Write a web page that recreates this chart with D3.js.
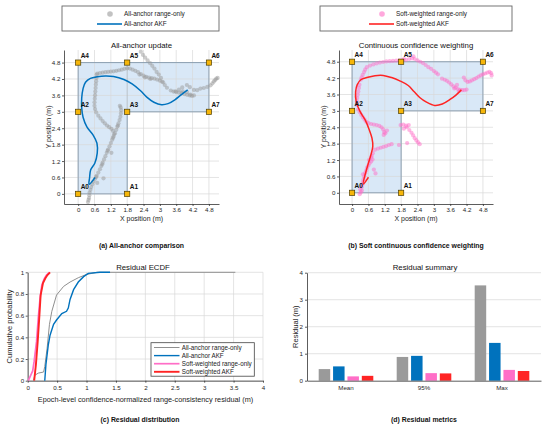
<!DOCTYPE html>
<html>
<head>
<meta charset="utf-8">
<script src="https://cdn.jsdelivr.net/npm/d3@7"></script>
<style>
    body { margin: 0; background: #fff; }
    svg { font-family: "Liberation Sans", Arial, sans-serif; }
    .grid line { stroke: #d9d9d9; stroke-width: 0.7; }
    .axis path, .axis line { stroke: #333; stroke-width: 0.8; }
    .axis text { fill: #262626; font-size: 6.2px; font-family: "Liberation Sans", Arial, sans-serif; }
</style>
</head>
<body>
<svg id="chart" width="550" height="428"></svg>
<script>

// anchors
const anchorNames = ["A0", "A1", "A2", "A3", "A4", "A5", "A6", "A7"];
const anchorX = [0, 1.8, 0, 1.8, 0, 1.8, 4.8, 4.8];
const anchorY = [0, 0, 3, 3, 4.8, 4.8, 4.8, 3];
const trajTicks = [0, 0.6, 1.2, 1.8, 2.4, 3, 3.6, 4.2, 4.8];

// (a) all-anchor range-only fixes (x, y in m)
const allAnchorRangeOnly = [
    [0.36, -0.30], [0.38, -0.22], [0.40, -0.15], [0.41, -0.05], [0.42, 0.05], [0.45, 0.15], [0.48, 0.25], [0.52, 0.35],
    [0.56, 0.45], [0.62, 0.55], [0.66, 0.62], [0.68, 0.66], [0.74, 0.78], [0.80, 0.90], [0.85, 1.02], [0.88, 1.08],
    [0.90, 1.14], [0.95, 1.26], [1.00, 1.38], [1.05, 1.50], [1.08, 1.58], [1.10, 1.62], [1.15, 1.74], [1.20, 1.86],
    [1.25, 1.98], [1.28, 2.05], [1.30, 2.10], [1.35, 2.22], [1.40, 2.34], [1.44, 2.46], [1.46, 2.50], [1.48, 2.58],
    [1.52, 2.70], [1.55, 2.82], [1.57, 2.94], [1.58, 3.06], [1.56, 3.16], [1.53, 3.22], [0.93, 0.57], [0.70, 0.40],
    [1.22, 1.50],
    [1.32, 2.18], [1.28, 2.30], [1.22, 2.38], [1.14, 2.44], [1.06, 2.50], [0.98, 2.58], [0.90, 2.66], [0.82, 2.76],
    [0.74, 2.86], [0.66, 2.98], [0.62, 3.10], [0.60, 3.22], [0.60, 3.35], [0.61, 3.48], [0.62, 3.61], [0.63, 3.74],
    [0.64, 3.87], [0.65, 4.00], [0.66, 4.12], [0.67, 4.24], [0.68, 4.36],
    [0.70, 4.40], [0.80, 4.42], [0.90, 4.43], [1.00, 4.45], [1.10, 4.46], [1.20, 4.47], [1.30, 4.48], [1.40, 4.50],
    [1.50, 4.52], [1.60, 4.54], [1.70, 4.57], [1.80, 4.59], [1.90, 4.58], [2.00, 4.54], [2.10, 4.50], [2.20, 4.45],
    [2.30, 4.38], [2.40, 4.32], [2.50, 4.28], [2.60, 4.25], [2.70, 4.23], [2.80, 4.21], [2.90, 4.18], [3.00, 4.14],
    [3.08, 4.10], [2.25, 4.36], [2.45, 4.26], [2.65, 4.20],
    [2.30, 5.20], [2.38, 5.08], [2.46, 4.98], [2.55, 4.88], [2.64, 4.78], [2.72, 4.68], [2.80, 4.58], [2.88, 4.46],
    [2.96, 4.36], [3.04, 4.24], [3.12, 4.08], [3.18, 3.98], [3.26, 3.88],
    [3.40, 3.78], [3.50, 3.74], [3.57, 3.75], [3.60, 3.72], [3.70, 3.81], [3.70, 3.70], [3.82, 3.89], [3.84, 3.75],
    [3.80, 3.68], [3.90, 3.65], [4.00, 3.72], [4.00, 3.62], [4.12, 3.63], [4.10, 3.60], [4.18, 3.58], [4.25, 3.60],
    [3.99, 3.98], [4.10, 3.90], [4.25, 3.80], [4.37, 3.79], [4.49, 3.85], [4.61, 3.87], [4.74, 3.91], [4.86, 3.97],
    [4.93, 4.04], [4.98, 4.11], [5.03, 4.16], [5.07, 4.21], [5.12, 4.24]
];

// (a) all-anchor AKF track
const allAnchorAKF = [
    [0.62, 0.60], [0.40, 0.35], [0.42, 0.60], [0.46, 0.88], [0.61, 1.12], [0.70, 1.49], [0.69, 1.85], [0.55, 2.15],
    [0.32, 2.45], [0.18, 2.80], [0.13, 3.15], [0.13, 3.50], [0.18, 3.85], [0.27, 4.08], [0.45, 4.22], [0.70, 4.28],
    [1.00, 4.31], [1.30, 4.29], [1.68, 4.18], [1.98, 4.02], [2.29, 3.77], [2.53, 3.53], [2.78, 3.35], [3.06, 3.26],
    [3.30, 3.30], [3.55, 3.44], [3.79, 3.63], [4.02, 3.80]
];

// (b) soft-weighted range-only fixes
const softRangeOnly = [
    [0.28, -0.05], [0.32, 0.02], [0.36, 0.08], [0.30, 0.12], [0.35, 0.20], [0.38, 0.30], [0.40, 0.40], [0.42, 0.50],
    [0.45, 0.60], [0.40, 0.68], [0.48, 0.72], [0.52, 0.82], [0.55, 0.92], [0.60, 1.00], [0.64, 1.08], [0.70, 1.15],
    [0.62, 1.20], [0.75, 1.22], [0.70, 1.30], [0.86, 0.71], [0.80, 0.85], [0.72, 1.35], [0.76, 1.45],
    [0.84, 1.58], [0.95, 1.62], [1.05, 1.65], [1.15, 1.68], [1.25, 1.71], [1.35, 1.75], [1.45, 1.78], [1.72, 1.75],
    [0.22, 3.05], [0.28, 2.95], [0.34, 2.85], [0.40, 2.76], [0.46, 2.68], [0.52, 2.60], [0.60, 2.55], [0.70, 2.52],
    [0.80, 2.50], [0.90, 2.48], [1.00, 2.45], [1.08, 2.40], [1.14, 2.32], [1.18, 2.22], [1.16, 2.12], [1.22, 2.18],
    [1.28, 2.28],
    [0.17, 3.22], [0.18, 3.34], [0.19, 3.47], [0.21, 3.59], [0.23, 3.71], [0.25, 3.84], [0.27, 3.96], [0.32, 4.14],
    [0.35, 4.23], [0.39, 4.32], [0.44, 4.42], [0.48, 4.51], [0.54, 4.60],
    [0.66, 4.66], [0.78, 4.70], [0.90, 4.74], [1.02, 4.77], [1.14, 4.79], [1.26, 4.81], [1.38, 4.82], [1.50, 4.83],
    [1.62, 4.84], [1.74, 4.85], [1.86, 4.86], [1.98, 4.87], [2.10, 4.90], [2.20, 4.92], [2.30, 4.90], [2.40, 4.85],
    [2.50, 4.80], [2.60, 4.75], [2.70, 4.68], [2.80, 4.60], [2.90, 4.54], [3.00, 4.46], [3.08, 4.40], [3.15, 4.34],
    [2.25, 5.00], [1.90, 4.90], [3.30, 4.18],
    [3.40, 4.14], [3.48, 4.10], [3.56, 4.04], [3.64, 3.97], [3.72, 3.90], [3.80, 3.85], [3.88, 3.80], [3.96, 3.77],
    [4.04, 3.76], [4.12, 3.76], [4.20, 3.78], [3.75, 3.82], [3.85, 3.95], [3.92, 3.72],
    [4.10, 4.22], [4.16, 4.12], [4.24, 4.06], [4.32, 4.08], [4.40, 4.12], [4.48, 4.16], [4.56, 4.20], [4.64, 4.26],
    [4.72, 4.30], [4.80, 4.34], [4.88, 4.37], [4.96, 4.40], [5.04, 4.43], [5.10, 4.38], [5.12, 4.30],
    [1.78, 2.48], [1.88, 2.50], [1.98, 2.46], [2.08, 2.48], [2.00, 2.40], [1.90, 2.35], [2.10, 2.30], [2.18, 2.20],
    [2.24, 2.10], [2.30, 2.00], [2.36, 1.92], [2.42, 1.85], [2.48, 1.78], [2.02, 1.82]
];

// (b) soft-weighted AKF track
const softAKF = [
    [0.60, 0.57], [0.41, 0.32], [0.51, 0.78], [0.60, 1.09], [0.69, 1.39], [0.76, 1.70], [0.73, 2.00], [0.63, 2.31],
    [0.48, 2.67], [0.29, 2.98], [0.15, 3.35], [0.13, 3.71], [0.19, 3.96], [0.32, 4.14], [0.54, 4.22], [0.84, 4.29],
    [1.14, 4.30], [1.45, 4.22], [1.75, 4.10], [2.06, 3.93], [2.27, 3.71], [2.48, 3.49], [2.73, 3.32], [3.03, 3.20],
    [3.31, 3.25], [3.58, 3.41], [3.80, 3.57], [4.01, 3.77]
];

// (c) residual ECDFs: [residual (m), cumulative probability]
const ecdfLabels = ["All-anchor range-only", "All-anchor AKF", "Soft-weighted range-only", "Soft-weighted AKF"];
const ecdfAllRange = [
    [0.10, 0], [0.12, 0.05], [0.18, 0.07], [0.27, 0.08], [0.29, 0.13], [0.33, 0.30], [0.37, 0.52], [0.41, 0.64],
    [0.49, 0.79], [0.61, 0.87], [0.72, 0.91], [0.86, 0.95], [1.00, 0.98], [1.18, 1.0], [3.53, 1.0]
];
const ecdfAllAKF = [
    [0.29, 0], [0.31, 0.15], [0.35, 0.33], [0.38, 0.42], [0.44, 0.52], [0.49, 0.56], [0.58, 0.62], [0.66, 0.64],
    [0.69, 0.67], [0.72, 0.75], [0.78, 0.84], [0.86, 0.91], [0.95, 0.96], [1.03, 0.99], [1.23, 1.0], [1.40, 1.0]
];
const ecdfSoftRange = [
    [0.01, 0], [0.06, 0.06], [0.085, 0.09], [0.11, 0.18], [0.15, 0.36], [0.18, 0.58], [0.21, 0.76], [0.24, 0.88],
    [0.28, 0.94], [0.32, 0.975], [0.37, 1.0]
];
const ecdfSoftAKF = [
    [0.11, 0], [0.14, 0.15], [0.17, 0.36], [0.20, 0.61], [0.22, 0.79], [0.26, 0.90], [0.30, 0.945], [0.335, 0.975],
    [0.38, 1.0]
];

// (d) residual metrics
const metricNames = ["Mean", "95%", "Max"];
const barAllRange = [0.43, 0.88, 3.53];
const barAllAKF = [0.53, 0.92, 1.40];
const barSoftRange = [0.16, 0.28, 0.40];
const barSoftAKF = [0.18, 0.27, 0.36];

const colGray = "#9a9a9a", colBlue = "#0072bd", colPink = "#ff6ec7", colRed = "#ff2424";
const lineGray = "#8f8f8f";


let svg = d3.select("#chart");


/*
 * Trajectory panels (a) and (b)
 */
function drawTrajectory(opt) {
    let g = svg.append("g");

    let x = d3.scaleLinear().domain(opt.xDomain).range([opt.left, opt.right]);
    let y = d3.scaleLinear().domain(opt.yDomain).range([opt.bottom, opt.top]);

    // legend box
    let lg = g.append("g");
    lg.append("rect")
        .attr("x", opt.legend[0]).attr("y", 6)
        .attr("width", opt.legend[1] - opt.legend[0]).attr("height", 25)
        .attr("fill", "#fff").attr("stroke", "#666").attr("stroke-width", 0.9);
    lg.append("circle")
        .attr("cx", opt.legendText - 14).attr("cy", 14).attr("r", 2.8)
        .attr("fill", opt.dotColor).attr("opacity", 0.6);
    lg.append("line")
        .attr("x1", opt.legendText - 27).attr("x2", opt.legendText - 2)
        .attr("y1", 24).attr("y2", 24)
        .attr("stroke", opt.lineColor).attr("stroke-width", 1.6);
    lg.selectAll(".lt")
        .data(opt.legendLabels)
        .enter().append("text")
        .attr("x", opt.legendText)
        .attr("y", (d, i) => 16.2 + i * 10.2)
        .style("font-size", "6.4px")
        .attr("fill", "#222")
        .text(d => d);

    // coverage area (L shape)
    g.selectAll(".zone")
        .data([[0, 0, 1.8, 4.8], [1.8, 3, 4.8, 4.8]])
        .enter().append("rect")
        .attr("x", d => x(d[0]))
        .attr("y", d => y(d[3]))
        .attr("width", d => x(d[2]) - x(d[0]))
        .attr("height", d => y(d[1]) - y(d[3]))
        .attr("fill", "#d9e8f7");

    // grid
    let grid = g.append("g").attr("class", "grid");
    grid.selectAll(".gx").data(trajTicks).enter().append("line")
        .attr("x1", d => x(d)).attr("x2", d => x(d))
        .attr("y1", opt.top).attr("y2", opt.bottom);
    grid.selectAll(".gy").data(trajTicks).enter().append("line")
        .attr("y1", d => y(d)).attr("y2", d => y(d))
        .attr("x1", opt.left).attr("x2", opt.right);

    g.append("path")
        .attr("d", d3.line().x(d => x(d[0])).y(d => y(d[1]))(
            [[0, 0], [1.8, 0], [1.8, 3], [4.8, 3], [4.8, 4.8], [0, 4.8], [0, 0]]))
        .attr("fill", "none").attr("stroke", "#8298ad").attr("stroke-width", 0.9);
    g.append("line")
        .attr("x1", x(1.8)).attr("x2", x(1.8)).attr("y1", y(3)).attr("y2", y(4.8))
        .attr("stroke", "#8298ad").attr("stroke-width", 0.6).attr("opacity", 0.6);

    // axes
    g.append("g").attr("class", "axis")
        .attr("transform", "translate(0," + opt.bottom + ")")
        .call(d3.axisBottom(x).tickValues(trajTicks).tickFormat(d3.format("~g"))
            .tickSize(2).tickPadding(2).tickSizeOuter(0));
    g.append("g").attr("class", "axis")
        .attr("transform", "translate(" + opt.left + ",0)")
        .call(d3.axisLeft(y).tickValues(trajTicks).tickFormat(d3.format("~g"))
            .tickSize(2).tickPadding(1.6).tickSizeOuter(0));

    // range-only fixes
    g.append("g").selectAll("circle")
        .data(opt.points)
        .enter().append("circle")
        .attr("cx", d => x(d[0]))
        .attr("cy", d => y(d[1]))
        .attr("r", 2.1)
        .attr("fill", opt.dotColor)
        .attr("opacity", 0.5);

    // filtered track
    g.append("path")
        .datum(opt.track)
        .attr("d", d3.line().curve(d3.curveCatmullRom).x(d => x(d[0])).y(d => y(d[1])))
        .attr("fill", "none")
        .attr("stroke", opt.lineColor)
        .attr("stroke-width", 1.5);

    // anchors
    let anchors = d3.range(anchorNames.length);
    g.selectAll(".anc").data(anchors).enter().append("rect")
        .attr("x", i => x(anchorX[i]) - 2.6)
        .attr("y", i => y(anchorY[i]) - 2.6)
        .attr("width", 5.2).attr("height", 5.2)
        .attr("fill", "#f6b60a").attr("stroke", "#4d3d00").attr("stroke-width", 0.7);
    g.selectAll(".anl").data(anchors).enter().append("text")
        .attr("x", i => x(anchorX[i]) + 2.5)
        .attr("y", i => y(anchorY[i]) - 4.5)
        .style("font-size", "6.5px").style("font-weight", "bold")
        .attr("fill", "#111")
        .text(i => anchorNames[i]);

    // titles and labels
    let cx = (opt.left + opt.right) / 2;
    g.append("text").attr("x", cx).attr("y", 47.5).attr("text-anchor", "middle")
        .style("font-size", "7.8px").attr("fill", "#111").text(opt.title);
    g.append("text").attr("x", cx).attr("y", 221).attr("text-anchor", "middle")
        .style("font-size", "7px").attr("fill", "#222").text("X position (m)");
    g.append("text")
        .attr("transform", "translate(" + (opt.left - 13.5) + "," + ((opt.top + opt.bottom) / 2) + ") rotate(-90)")
        .attr("text-anchor", "middle")
        .style("font-size", "7px").attr("fill", "#222").text("Y position (m)");
    g.append("text").attr("x", cx).attr("y", 247.8).attr("text-anchor", "middle")
        .style("font-size", "6.9px").style("font-weight", "bold").attr("fill", "#111").text(opt.caption);
}

drawTrajectory({
    left: 64, right: 219, top: 50, bottom: 204,
    xDomain: [-0.52, 5.17], yDomain: [-0.37, 5.26],
    legend: [62, 219], legendText: 124,
    legendLabels: ["All-anchor range-only", "All-anchor AKF"],
    dotColor: colGray, lineColor: colBlue,
    points: allAnchorRangeOnly, track: allAnchorAKF,
    title: "All-anchor update", caption: "(a) All-anchor comparison"
});

drawTrajectory({
    left: 339, right: 493, top: 50, bottom: 204,
    xDomain: [-0.48, 5.17], yDomain: [-0.41, 5.23],
    legend: [320, 512], legendText: 396,
    legendLabels: ["Soft-weighted range-only", "Soft-weighted AKF"],
    dotColor: colPink, lineColor: colRed,
    points: softRangeOnly, track: softAKF,
    title: "Continuous confidence weighting", caption: "(b) Soft continuous confidence weighting"
});


/*
 * (c) Residual ECDF
 */
{
    let g = svg.append("g");
    let left = 27.7, right = 263, top = 272.3, bottom = 380.7;
    let x = d3.scaleLinear().domain([0, 4]).range([left, right]);
    let y = d3.scaleLinear().domain([0, 1]).range([bottom, top]);
    let xt = d3.range(0, 4.01, 0.5), yt = [0, 0.2, 0.4, 0.6, 0.8, 1];

    let grid = g.append("g").attr("class", "grid");
    grid.selectAll(".gx").data(xt).enter().append("line")
        .attr("x1", d => x(d)).attr("x2", d => x(d)).attr("y1", top).attr("y2", bottom);
    grid.selectAll(".gy").data(yt).enter().append("line")
        .attr("y1", d => y(d)).attr("y2", d => y(d)).attr("x1", left).attr("x2", right);

    g.append("g").attr("class", "axis")
        .attr("transform", "translate(0," + bottom + ")")
        .call(d3.axisBottom(x).tickValues(xt).tickFormat(d3.format("~g")).tickSize(2).tickPadding(2.5).tickSizeOuter(0));
    g.append("g").attr("class", "axis")
        .attr("transform", "translate(" + left + ",0)")
        .call(d3.axisLeft(y).tickValues(yt).tickFormat(d3.format("~g")).tickSize(2).tickPadding(1.5).tickSizeOuter(0));

    let series = [ecdfAllRange, ecdfAllAKF, ecdfSoftRange, ecdfSoftAKF];
    let colors = [lineGray, colBlue, colPink, colRed];
    let widths = [1, 1.4, 1.7, 1.9];
    let line = d3.line().x(d => x(d[0])).y(d => y(d[1]));
    series.forEach(function (s, i) {
        g.append("path").datum(s).attr("d", line)
            .attr("fill", "none").attr("stroke", colors[i]).attr("stroke-width", widths[i]);
    });

    // legend
    let lg = g.append("g");
    lg.append("rect").attr("x", 151).attr("y", 342.7).attr("width", 103.3).attr("height", 33.5)
        .attr("fill", "#fff").attr("stroke", "#444").attr("stroke-width", 0.8);
    ecdfLabels.forEach(function (lab, i) {
        let ly = 347.5 + i * 8.1;
        lg.append("line").attr("x1", 154).attr("x2", 179.5).attr("y1", ly).attr("y2", ly)
            .attr("stroke", colors[i]).attr("stroke-width", widths[i]);
        lg.append("text").attr("x", 181.7).attr("y", ly + 2.2)
            .style("font-size", "6.3px").attr("fill", "#222").text(lab);
    });

    g.append("text").attr("x", 143).attr("y", 270).attr("text-anchor", "middle")
        .style("font-size", "7.8px").attr("fill", "#111").text("Residual ECDF");
    g.append("text").attr("x", 145.5).attr("y", 401.5).attr("text-anchor", "middle")
        .style("font-size", "7.3px").attr("fill", "#222")
        .text("Epoch-level confidence-normalized range-consistency residual (m)");
    g.append("text")
        .attr("transform", "translate(" + 12 + "," + ((top + bottom) / 2) + ") rotate(-90)")
        .attr("text-anchor", "middle")
        .style("font-size", "7.5px").attr("fill", "#222").text("Cumulative probability");
    g.append("text").attr("x", 140).attr("y", 421.5).attr("text-anchor", "middle")
        .style("font-size", "6.9px").style("font-weight", "bold").attr("fill", "#111")
        .text("(c) Residual distribution");
}


/*
 * (d) Residual summary bars
 */
{
    let g = svg.append("g");
    let left = 307, right = 541, top = 272.7, bottom = 380.7;
    let x0 = d3.scaleBand().domain(metricNames).range([left, right]).paddingInner(0.3).paddingOuter(0.15);
    let keys = [0, 1, 2, 3];
    let x1 = d3.scaleBand().domain(keys).range([0, x0.bandwidth()]).paddingInner(0.2);
    let y = d3.scaleLinear().domain([0, 4]).range([bottom, top]);
    let series = [barAllRange, barAllAKF, barSoftRange, barSoftAKF];
    let colors = [colGray, colBlue, colPink, colRed];

    let grid = g.append("g").attr("class", "grid");
    grid.selectAll(".gy").data([1, 2, 3, 4]).enter().append("line")
        .attr("y1", d => y(d)).attr("y2", d => y(d)).attr("x1", left).attr("x2", right);

    let groups = g.selectAll(".grp").data(metricNames).enter().append("g")
        .attr("transform", d => "translate(" + x0(d) + ",0)");
    groups.selectAll("rect")
        .data((d, j) => keys.map(k => ({k: k, v: series[k][j]})))
        .enter().append("rect")
        .attr("x", d => x1(d.k))
        .attr("y", d => y(d.v))
        .attr("width", x1.bandwidth())
        .attr("height", d => y(0) - y(d.v))
        .attr("fill", d => colors[d.k]);

    g.append("g").attr("class", "axis")
        .attr("transform", "translate(0," + bottom + ")")
        .call(d3.axisBottom(x0).tickSize(0).tickSizeOuter(0).tickPadding(5));
    g.append("g").attr("class", "axis")
        .attr("transform", "translate(" + left + ",0)")
        .call(d3.axisLeft(y).ticks(4).tickSize(2).tickPadding(2).tickSizeOuter(0));

    g.append("text").attr("x", 425).attr("y", 270).attr("text-anchor", "middle")
        .style("font-size", "7.8px").attr("fill", "#111").text("Residual summary");
    g.append("text")
        .attr("transform", "translate(" + 297.5 + "," + ((top + bottom) / 2) + ") rotate(-90)")
        .attr("text-anchor", "middle")
        .style("font-size", "7.5px").attr("fill", "#222").text("Residual (m)");
    g.append("text").attr("x", 424).attr("y", 421.5).attr("text-anchor", "middle")
        .style("font-size", "6.9px").style("font-weight", "bold").attr("fill", "#111")
        .text("(d) Residual metrics");
}

</script>
</body>
</html>
